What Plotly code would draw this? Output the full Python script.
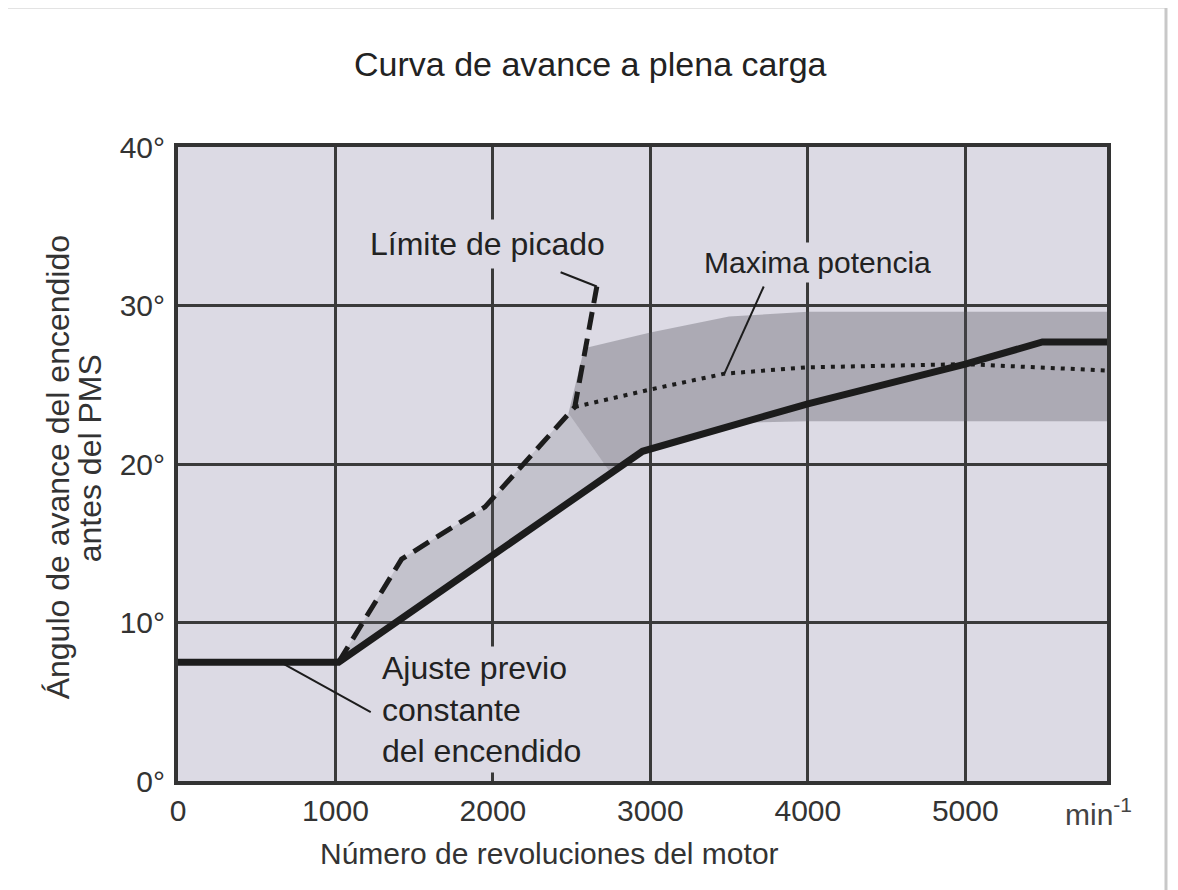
import plotly.graph_objects as go

# Curva de avance (encendido)
rpm_avance = [0, 1020, 2950, 4000, 5000, 5490, 5900]
deg_avance = [7.5, 7.5, 20.8, 23.8, 26.3, 27.7, 27.7]

# Límite de picado (línea discontinua)
rpm_picado = [1020, 1420, 1950, 2520, 2660]
deg_picado = [7.5, 14.0, 17.3, 23.6, 31.2]

# Máxima potencia (línea de puntos)
rpm_potencia = [2520, 3000, 3470, 4000, 5000, 5900]
deg_potencia = [23.6, 24.7, 25.7, 26.1, 26.3, 25.9]

# Zona sombreada oscura (dispersión de máxima potencia)
band_rpm = [2480, 2580, 3000, 3500, 4000, 5000, 5900, 5900, 5000, 4000, 3600, 3300, 2950, 2750, 2480]
band_deg = [23.2, 27.3, 28.3, 29.3, 29.6, 29.6, 29.6, 22.7, 22.7, 22.7, 22.6, 22.0, 20.8, 19.4, 23.2]

# Cuña clara entre límite de picado y curva de avance
wedge_rpm = [1020, 1420, 1950, 2480, 2750, 1020]
wedge_deg = [7.5, 14.0, 17.3, 23.2, 19.4, 7.5]

x_ticks = [0, 1000, 2000, 3000, 4000, 5000]
y_ticks = [0, 10, 20, 30, 40]
y_labels = ["0°", "10°", "20°", "30°", "40°"]

FONT = "Liberation Sans, Arial, sans-serif"
BG = "#dcdae4"
INK = "#1c1c1c"

fig = go.Figure()

fig.add_trace(go.Scatter(
    x=wedge_rpm, y=wedge_deg, fill="toself", mode="lines",
    line=dict(width=0), fillcolor="rgba(110,108,118,0.22)",
    hoverinfo="skip", showlegend=False
))
fig.add_trace(go.Scatter(
    x=band_rpm, y=band_deg, fill="toself", mode="lines",
    line=dict(width=0), fillcolor="rgba(80,78,88,0.34)",
    hoverinfo="skip", showlegend=False
))

fig.add_trace(go.Scatter(
    x=rpm_potencia, y=deg_potencia, mode="lines",
    line=dict(color=INK, width=4, dash="4px,6px"),
    name="Maxima potencia", showlegend=False
))
fig.add_trace(go.Scatter(
    x=rpm_picado, y=deg_picado, mode="lines",
    line=dict(color=INK, width=5, dash="18px,9px"),
    name="Límite de picado", showlegend=False
))
fig.add_trace(go.Scatter(
    x=rpm_avance, y=deg_avance, mode="lines",
    line=dict(color=INK, width=7),
    name="Avance", showlegend=False
))

# líneas de referencia de las etiquetas
leaders = [
    ((2430, 32.1), (2660, 31.2)),
    ((3720, 31.2), (3470, 25.7)),
    ((650, 7.5), (1224, 4.35)),
]
for (x0, y0), (x1, y1) in leaders:
    fig.add_shape(type="line", xref="x", yref="y", x0=x0, y0=y0, x1=x1, y1=y1,
                  line=dict(color=INK, width=2), layer="above")

lbl_font = dict(family=FONT, size=32, color="#222")
fig.add_annotation(x=1174, y=33.9, xref="x", yref="y", text="Límite de picado",
                   xanchor="left", yanchor="middle", showarrow=False,
                   font=lbl_font, bgcolor=BG, borderpad=6)
fig.add_annotation(x=3318, y=32.7, xref="x", yref="y", text="Maxima potencia",
                   xanchor="left", yanchor="middle", showarrow=False,
                   font=dict(family=FONT, size=30, color="#222"), bgcolor=BG, borderpad=3)
fig.add_annotation(x=1273, y=4.5, xref="x", yref="y",
                   text="Ajuste previo<br>constante<br>del encendido",
                   xanchor="left", yanchor="middle", align="left", showarrow=False,
                   font=lbl_font, bgcolor=BG, borderpad=3)

# textos de ejes y título
fig.add_annotation(x=0.4435, y=1.131, xref="paper", yref="paper",
                   xanchor="center", yanchor="middle",
                   text="Curva de avance a plena carga", showarrow=False,
                   font=dict(family=FONT, size=34, color="#222"))
fig.add_annotation(x=0.4004, y=-0.1136, xref="paper", yref="paper",
                   xanchor="center", yanchor="middle",
                   text="Número de revoluciones del motor", showarrow=False,
                   font=dict(family=FONT, size=30, color="#333"))
fig.add_annotation(x=0.9526, y=-0.049, xref="paper", yref="paper",
                   xanchor="left", yanchor="middle",
                   text="min<sup>-1</sup>", showarrow=False,
                   font=dict(family=FONT, size=30, color="#444"))
fig.add_annotation(x=-0.129, y=0.495, xref="paper", yref="paper",
                   xanchor="center", yanchor="middle",
                   text="Ángulo de avance del encendido", textangle=-90,
                   showarrow=False, font=dict(family=FONT, size=32, color="#333"))
fig.add_annotation(x=-0.0947, y=0.509, xref="paper", yref="paper",
                   xanchor="center", yanchor="middle",
                   text="antes del PMS", textangle=-90,
                   showarrow=False, font=dict(family=FONT, size=32, color="#333"))

# marco exterior de la imagen
fig.add_shape(type="rect", xref="paper", yref="paper",
              x0=-0.1862, x1=1.0635, y0=-0.19, y1=1.2208,
              line=dict(color="#c8c8c8", width=3), layer="below")

# la página añade 8 px de margen al cuerpo: se compensa aquí
fig.update_layout(
    width=1170, height=882,
    margin=dict(l=170, r=71, t=139, b=109),
    paper_bgcolor="white", plot_bgcolor=BG,
    font=dict(family=FONT, size=30, color="#333"),
    xaxis=dict(range=[0, 5900], tickvals=x_ticks, showgrid=True,
               gridcolor="#3a3a3a", gridwidth=3, zeroline=False,
               showline=True, mirror=True, linecolor="#333", linewidth=4,
               ticks="", ticklabelstandoff=0,
               tickfont=dict(family=FONT, size=30, color="#333")),
    yaxis=dict(range=[0, 40], tickvals=y_ticks, ticktext=y_labels, showgrid=True,
               gridcolor="#3a3a3a", gridwidth=3, zeroline=False,
               showline=True, mirror=True, linecolor="#333", linewidth=4,
               ticks="", ticklabelstandoff=3,
               tickfont=dict(family=FONT, size=30, color="#333")),
)

fig.write_html("out.html")
